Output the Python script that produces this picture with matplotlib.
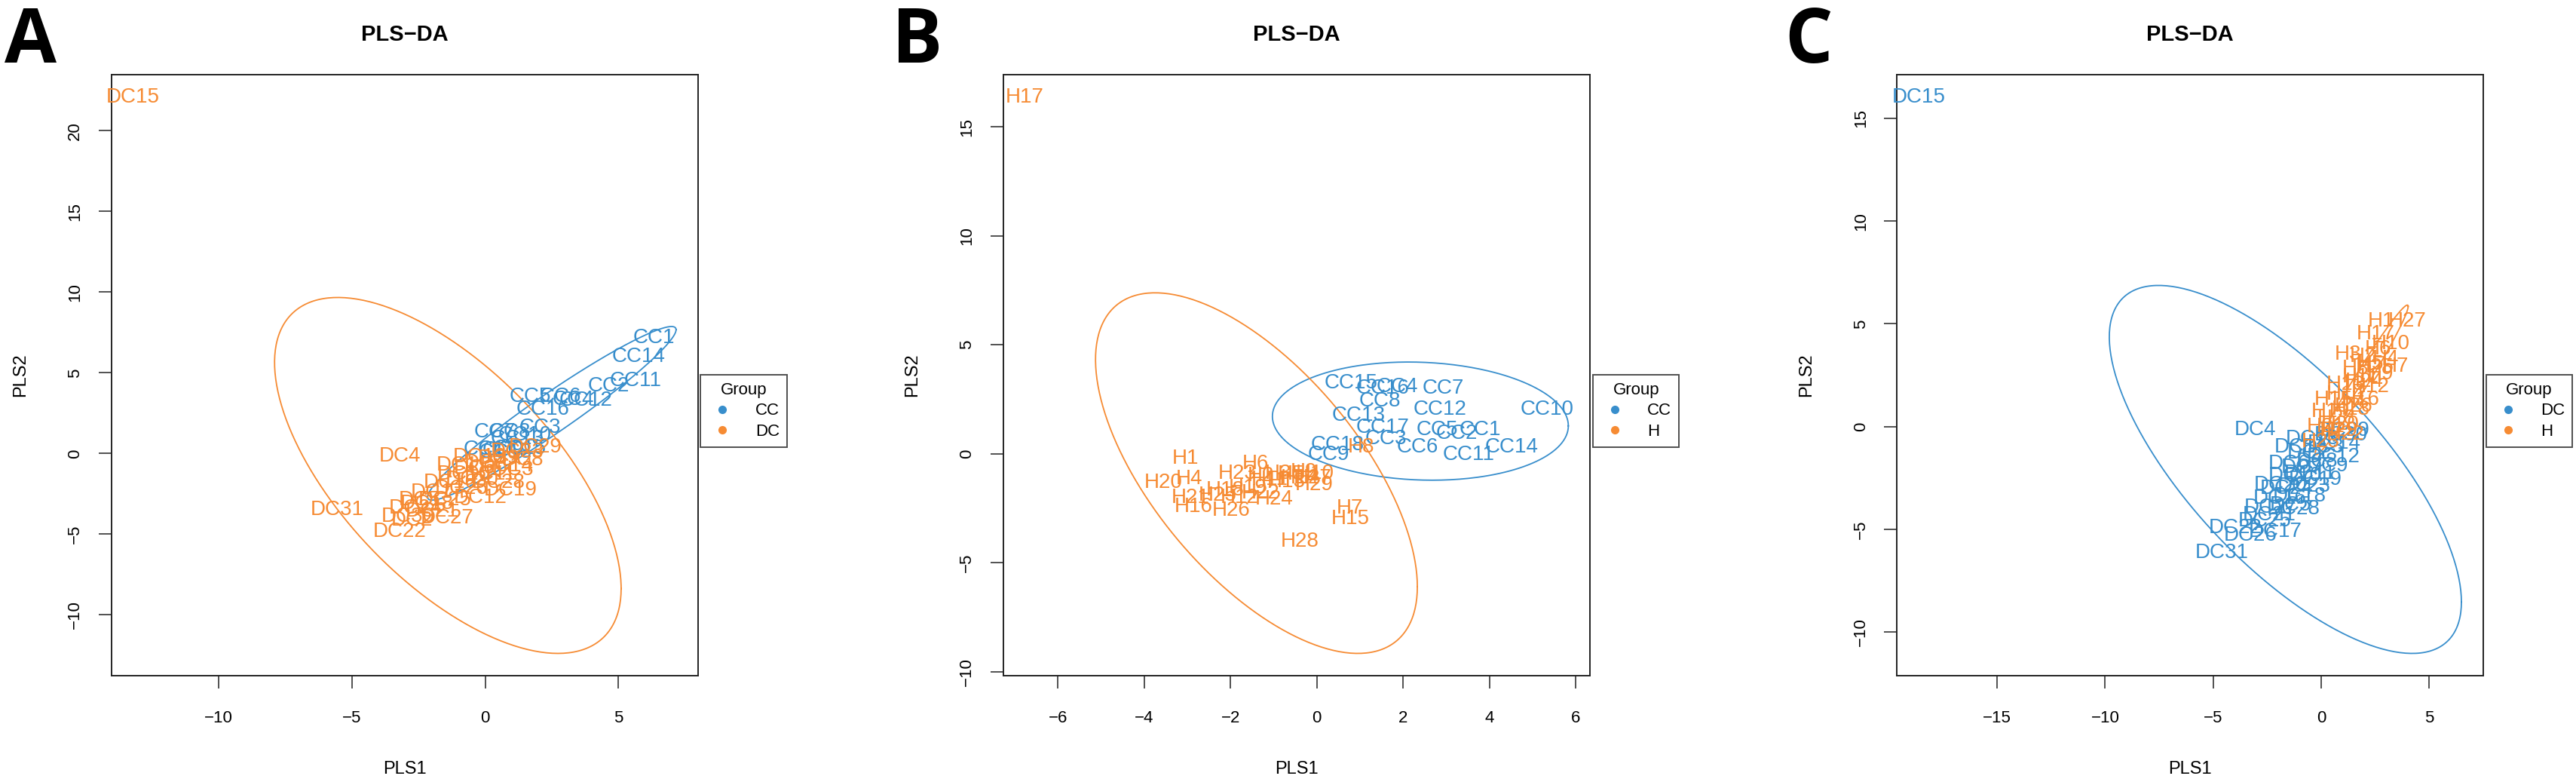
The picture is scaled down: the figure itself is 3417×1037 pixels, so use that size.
import numpy as np
import matplotlib.pyplot as plt
from matplotlib.lines import Line2D

plt.rcParams['font.family'] = ['Liberation Sans', 'DejaVu Sans']

blue = '#388ECC'
orange = '#F68B33'

# ---- panel A : CC vs DC ----
a_cc_names = ['CC1', 'CC14', 'CC11', 'CC2', 'CC12', 'CC4', 'CC6', 'CC5', 'CC16', 'CC3',
              'CC7', 'CC8', 'CC10', 'CC13', 'CC9', 'CC15', 'CC17', 'CC18']
a_cc_x = [6.32, 5.75, 5.65, 4.62, 3.77, 3.30, 2.82, 1.69, 2.17, 2.07,
          0.37, 0.94, 1.50, 1.20, 0.66, 1.30, 0.19, 0.75]
a_cc_y = [7.17, 6.00, 4.51, 4.20, 3.27, 3.35, 3.50, 3.50, 2.72, 1.63,
          1.32, 1.32, 1.16, 0.90, 0.22, 0.30, 0.23, 0.07]

a_dc_names = ['DC15', 'DC4', 'DC31', 'DC22', 'DC29', 'DC8', 'DC3', 'DC19', 'DC12', 'DC27',
              'DC2', 'DC5', 'DC1', 'DC6', 'DC7', 'DC9', 'DC10', 'DC11', 'DC13', 'DC14',
              'DC16', 'DC17', 'DC18', 'DC20', 'DC21', 'DC23', 'DC24', 'DC25', 'DC26', 'DC28', 'DC30']
a_dc_x = [-13.21, -3.20, -5.56, -3.21, 1.88, 1.41, 1.03, 0.94, -0.19, -1.42,
          -2.74, -2.45, -1.04, -0.40, 0.00, 0.50, -0.80, 0.20, -0.20, 0.80,
          -1.30, -1.80, -2.20, -0.50, -2.00, 1.20, -2.60, -1.50, -0.90, 0.50, -2.90]
a_dc_y = [22.10, -0.16, -3.48, -4.83, 0.38, -0.40, -1.02, -2.27, -2.73, -3.98,
          -4.14, -2.89, -0.71, -0.90, -0.60, -0.30, -1.30, -1.30, -0.20, -0.80,
          -1.80, -2.40, -3.10, -1.60, -3.60, 0.10, -3.40, -2.90, -2.20, -1.80, -3.90]

# ellipse: centre x, centre y, half range x, half range y, correlation
a_cc_ell = [2.50, 2.49, 4.66, 5.38, 0.963]
a_dc_ell = [-1.40, -1.36, 6.50, 11.03, -0.635]

# ---- panel B : CC vs H ----
b_cc_names = ['CC15', 'CC16', 'CC4', 'CC8', 'CC7', 'CC12', 'CC10', 'CC13', 'CC17', 'CC5',
              'CC2', 'CC1', 'CC3', 'CC6', 'CC11', 'CC14', 'CC18', 'CC9']
b_cc_x = [0.80, 1.53, 1.86, 1.46, 2.92, 2.86, 5.34, 0.96, 1.53, 2.79,
          3.25, 3.79, 1.60, 2.33, 3.52, 4.51, 0.47, 0.27]
b_cc_y = [3.24, 3.01, 3.07, 2.43, 3.01, 2.03, 2.03, 1.74, 1.22, 1.11,
          0.93, 1.11, 0.70, 0.30, -0.05, 0.30, 0.41, -0.05]

b_h_names = ['H17', 'H1', 'H6', 'H20', 'H4', 'H23', 'H29', 'H21', 'H18', 'H12',
             'H24', 'H16', 'H26', 'H7', 'H15', 'H28', 'H8', 'H2', 'H3', 'H5',
             'H9', 'H10', 'H11', 'H13', 'H14', 'H19', 'H22', 'H25', 'H27']
b_h_x = [-6.77, -3.05, -1.42, -3.55, -2.95, -1.85, -0.06, -2.92, -2.12, -1.79,
         -0.99, -2.85, -1.98, 0.77, 0.77, -0.40, 1.03, -1.30, -0.90, -0.60,
         -0.30, -0.05, -1.10, -0.70, -0.40, -1.60, -1.30, -2.30, -0.10]
b_h_y = [16.37, -0.22, -0.45, -1.32, -1.14, -0.91, -1.43, -2.00, -1.66, -2.00,
         -2.07, -2.42, -2.59, -2.48, -2.99, -4.03, 0.30, -1.00, -0.90, -0.95,
         -0.85, -0.90, -1.20, -1.30, -1.10, -1.55, -1.80, -1.90, -1.10]

b_cc_ell = [2.40, 1.50, 3.43, 2.71, -0.08]
b_h_ell = [-1.40, -0.885, 3.73, 8.27, -0.63]

# ---- panel C : DC vs H ----
c_dc_names = ['DC15', 'DC4', 'DC31', 'DC22', 'DC26', 'DC17', 'DC29', 'DC12', 'DC5', 'DC19',
              'DC20', 'DC27', 'DC1', 'DC2', 'DC3', 'DC6', 'DC7', 'DC8', 'DC9', 'DC10',
              'DC11', 'DC13', 'DC14', 'DC16', 'DC18', 'DC21', 'DC23', 'DC24', 'DC25', 'DC28', 'DC30']
c_dc_x = [-18.63, -3.04, -4.61, -3.97, -3.27, -2.12, 1.01, 0.55, -1.42, -0.27,
          -1.88, -2.35, -1.20, -0.60, 0.10, -1.50, -0.90, -0.20, 0.30, -1.20,
          -0.50, -0.40, 0.60, -1.90, -1.00, -2.40, -0.80, -1.60, -2.60, -1.30, 0.90]
c_dc_y = [16.04, -0.14, -6.13, -4.91, -5.28, -5.10, -0.20, -1.49, -3.81, -2.59,
          -2.83, -3.93, -1.00, -1.30, -1.00, -1.80, -2.00, -1.70, -1.90, -2.40,
          -2.30, -0.60, -0.80, -3.50, -3.40, -4.30, -2.90, -3.00, -4.60, -4.00, -0.40]

c_h_names = ['H1', 'H27', 'H17', 'H10', 'H6', 'H3', 'H2', 'H4', 'H5', 'H7',
             'H8', 'H9', 'H11', 'H12', 'H13', 'H14', 'H15', 'H16', 'H18', 'H19',
             'H20', 'H21', 'H22', 'H23', 'H24', 'H25', 'H26', 'H28', 'H29']
c_h_x = [2.78, 3.99, 2.51, 3.21, 2.63, 1.24, 1.93, 2.98, 2.28, 3.44,
         1.59, 2.74, 1.82, 2.28, 1.12, 1.12, 0.55, 1.82, 1.36, 0.43,
         0.89, 0.20, 1.12, -0.03, 2.00, 2.50, 1.50, 0.70, 0.80]
c_h_y = [5.12, 5.12, 4.51, 4.02, 3.77, 3.53, 3.41, 3.28, 3.04, 2.92,
         2.80, 2.55, 2.43, 1.94, 2.06, 1.57, 1.33, 1.33, 0.84, 0.72,
         0.10, -0.02, -0.39, -0.75, 2.20, 2.90, 1.00, 0.40, -0.20]

c_dc_ell = [-1.66, -2.08, 8.15, 8.95, -0.72]
c_h_ell = [1.875, 2.275, 2.15, 3.64, 0.982]


def ellipse_xy(e):
    cx, cy, sx, sy, rho = e
    t = np.linspace(0, 2 * np.pi, 300)
    return cx + sx * np.cos(t), cy + sy * np.cos(t + np.arccos(rho))


def panel(ax, g1, g2, e1, e2, group_labels, xticks, yticks):
    ex1, ey1 = ellipse_xy(e1)
    ex2, ey2 = ellipse_xy(e2)
    for (names, xs, ys), col in ((g1, blue), (g2, orange)):
        for n, x, y in zip(names, xs, ys):
            ax.text(x, y, n, color=col, fontsize=20, ha='center', va='center')
    ax.plot(ex1, ey1, color=blue, lw=1.3)
    ax.plot(ex2, ey2, color=orange, lw=1.3)

    # R style limits: data range + 4% each side
    allx = np.concatenate([g1[1], g2[1], ex1, ex2])
    ally = np.concatenate([g1[2], g2[2], ey1, ey2])
    dx = (allx.max() - allx.min()) * 0.04
    dy = (ally.max() - ally.min()) * 0.04
    ax.set_xlim(allx.min() - dx, allx.max() + dx)
    ax.set_ylim(ally.min() - dy, ally.max() + dy)

    ax.set_xticks(xticks)
    ax.set_yticks(yticks)
    ax.tick_params(direction='out', length=12, width=1.1, labelsize=16, color='#222222')
    ax.tick_params(axis='x', pad=21)
    ax.tick_params(axis='y', pad=15, labelrotation=90)
    for lab in ax.get_yticklabels():
        lab.set_va('center')
    for s in ax.spines.values():
        s.set_linewidth(1.4)
        s.set_color('#222222')

    ax.set_title('PLS\u2212DA', fontsize=21, fontweight='bold', y=1.0565, va='center')
    ax.set_xlabel('PLS1', fontsize=17)
    ax.set_ylabel('PLS2', fontsize=17)
    ax.xaxis.set_label_coords(0.5, -0.1556)
    ax.xaxis.label.set_va('center')
    ax.yaxis.set_label_coords(-0.155, 0.5)
    ax.yaxis.label.set_va('center')

    handles = [Line2D([], [], marker='o', ls='', color=blue, markersize=7),
               Line2D([], [], marker='o', ls='', color=orange, markersize=7)]
    leg = ax.legend(handles, group_labels, title='Group', loc='upper left',
                    bbox_to_anchor=(1.005, 0.501), borderaxespad=0, fontsize=16,
                    title_fontsize=16, frameon=True, fancybox=False, edgecolor='#222222',
                    borderpad=0.45, handlelength=1.7, handletextpad=1.1, labelspacing=0.3)
    leg.get_frame().set_linewidth(1.4)


fig = plt.figure(figsize=(34.17, 10.37), dpi=100)
W, H = 3417, 1037
ax_a = fig.add_axes([147.6 / W, 1 - 896 / H, 778 / W, 797 / H])
ax_b = fig.add_axes([1330.5 / W, 1 - 896 / H, 778.7 / W, 797 / H])
ax_c = fig.add_axes([2516.4 / W, 1 - 896 / H, 777.4 / W, 797 / H])

panel(ax_a, (a_cc_names, a_cc_x, a_cc_y), (a_dc_names, a_dc_x, a_dc_y),
      a_cc_ell, a_dc_ell, ['CC', 'DC'], [-10, -5, 0, 5], [-10, -5, 0, 5, 10, 15, 20])
panel(ax_b, (b_cc_names, b_cc_x, b_cc_y), (b_h_names, b_h_x, b_h_y),
      b_cc_ell, b_h_ell, ['CC', 'H'], [-6, -4, -2, 0, 2, 4, 6], [-10, -5, 0, 5, 10, 15])
panel(ax_c, (c_dc_names, c_dc_x, c_dc_y), (c_h_names, c_h_x, c_h_y),
      c_dc_ell, c_h_ell, ['DC', 'H'], [-15, -10, -5, 0, 5], [-10, -5, 0, 5, 10, 15])

for letter, xpix in (('A', 6), ('B', 1183), ('C', 2367)):
    fig.text(xpix / W, 1 - 83 / H, letter, fontsize=72, fontweight='bold',
             family=['Open Sans', 'DejaVu Sans'], ha='left', va='baseline')

fig.savefig('out.png', dpi=100)
